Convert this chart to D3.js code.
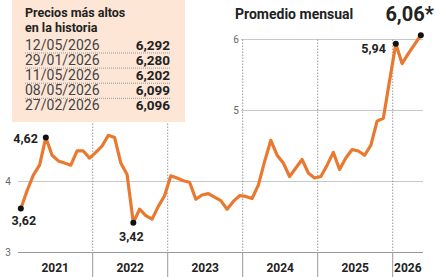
<!DOCTYPE html>
<html>
<head>
<meta charset="utf-8">
<script src="https://cdn.jsdelivr.net/npm/d3@7"></script>
<style>
  body { margin: 0; background: #fff; }
  svg { display: block; font-family: Roboto, "Noto Sans", sans-serif; }
</style>
</head>
<body>
<div id="chart"></div>
<script>
// monthly averages, Jan 2021 .. May 2026
var years = [2021, 2022, 2023, 2024, 2025, 2026];
var values2021 = [3.62, 3.87, 4.09, 4.23, 4.62, 4.37, 4.29, 4.26, 4.23, 4.43, 4.43, 4.33];
var values2022 = [4.41, 4.50, 4.65, 4.62, 4.26, 4.10, 3.42, 3.61, 3.52, 3.47, 3.65, 3.80];
var values2023 = [4.08, 4.05, 4.01, 3.99, 3.75, 3.81, 3.83, 3.78, 3.73, 3.61, 3.72, 3.80];
var values2024 = [3.79, 3.76, 3.95, 4.28, 4.58, 4.37, 4.26, 4.07, 4.19, 4.31, 4.12, 4.05];
var values2025 = [4.07, 4.23, 4.41, 4.17, 4.33, 4.45, 4.43, 4.37, 4.51, 4.85, 4.89, 5.42];
var values2026 = [5.94, 5.66, 5.80, 5.93, 6.06];

// highlighted points: month index from Jan 2021
var markIdx = [0, 4, 18, 60, 64];
var markLabels = ["3,62", "4,62", "3,42", "5,94", "6,06*"];

var yTicks = [3, 4, 5, 6];

// record table
var recordDates = ["12/05/2026", "29/01/2026", "11/05/2026", "08/05/2026", "27/02/2026"];
var recordValues = ["6,292", "6,280", "6,202", "6,099", "6,096"];

var svgWidth = 446, svgHeight = 277;

var svg = d3.select("#chart").append("svg")
    .attr("width", svgWidth)
    .attr("height", svgHeight);

var series = [].concat(values2021, values2022, values2023, values2024, values2025, values2026)
    .map(function (v, i) { return { m: i + 0.5, v: v }; });

// scales (x in months since Jan 2021)
var x = d3.scaleLinear().domain([0, 60]).range([17.7, 392.7]);
var y = d3.scaleLinear().domain([3, 6]).range([252.5, 39.5]);
var xEnd = 423;

// gridlines
var grid = svg.append("g");
yTicks.forEach(function (t) {
    var x0 = t >= 5 ? 241 : 18;
    grid.append("line")
        .attr("x1", x0).attr("x2", xEnd)
        .attr("y1", y(t)).attr("y2", y(t))
        .attr("stroke", t === 3 ? "#999" : "#c8c8c8")
        .attr("stroke-width", 1);
    grid.append("text")
        .attr("x", t >= 5 ? 236 : 8)
        .attr("y", y(t) + 3.5)
        .attr("text-anchor", "middle")
        .attr("font-size", 10)
        .attr("fill", "#666")
        .text(t);
});

// year separators
years.forEach(function (yr, i) {
    if (i === 0) return;
    var xx = x(i * 12);
    grid.append("line")
        .attr("x1", xx).attr("x2", xx)
        .attr("y1", y(6)).attr("y2", y(3))
        .attr("stroke", "#999")
        .attr("stroke-dasharray", "1.5,1.5");
    grid.append("line")
        .attr("x1", xx).attr("x2", xx)
        .attr("y1", y(3)).attr("y2", svgHeight)
        .attr("stroke", "#999");
});

// year labels
svg.append("g").selectAll("text")
    .data(years)
    .enter().append("text")
    .attr("x", function (d, i) {
        var a = x(i * 12), b = Math.min(x(i * 12 + 12), xEnd);
        return (a + b) / 2;
    })
    .attr("y", 272)
    .attr("text-anchor", "middle")
    .attr("font-size", 12)
    .attr("font-weight", "bold")
    .attr("fill", "#222")
    .text(function (d) { return d; });

// line
var line = d3.line()
    .x(function (d) { return x(d.m); })
    .y(function (d) { return y(d.v); });

svg.append("path")
    .datum(series)
    .attr("fill", "none")
    .attr("stroke", "#e8792f")
    .attr("stroke-width", 3.2)
    .attr("stroke-linejoin", "round")
    .attr("d", line);

// info box (drawn over the grid)
var box = svg.append("g");
box.append("rect")
    .attr("x", 12).attr("y", 0)
    .attr("width", 173).attr("height", 122)
    .attr("fill", "#fde6d6");
box.append("text")
    .attr("x", 25).attr("y", 17)
    .attr("font-size", 12.5).attr("font-weight", "bold").attr("fill", "#222")
    .text("Precios más altos");
box.append("text")
    .attr("x", 25).attr("y", 32)
    .attr("font-size", 12.5).attr("font-weight", "bold").attr("fill", "#222")
    .text("en la historia");

recordDates.forEach(function (d, i) {
    var by = 50 + i * 15.1;
    box.append("text")
        .attr("x", 25).attr("y", by)
        .attr("font-size", 14).attr("fill", "#444")
        .text(d);
    box.append("text")
        .attr("x", 170).attr("y", by)
        .attr("text-anchor", "end")
        .attr("font-size", 13.5).attr("font-weight", "bold").attr("fill", "#222")
        .text(recordValues[i]);
    if (i < recordDates.length - 1) {
        box.append("line")
            .attr("x1", 25).attr("x2", 170)
            .attr("y1", by + 3).attr("y2", by + 3)
            .attr("stroke", "#999")
            .attr("stroke-dasharray", "1,1");
    }
});

// title
svg.append("text")
    .attr("x", 235).attr("y", 19)
    .attr("font-size", 14).attr("font-weight", "bold").attr("fill", "#222")
    .text("Promedio mensual");

// marked points
var labelPos = [
    { dx: 3, dy: 17, anchor: "middle", size: 12.5 },
    { dx: -8, dy: 6, anchor: "end", size: 12.5 },
    { dx: -2, dy: 18, anchor: "middle", size: 12.5 },
    { dx: -10, dy: 9, anchor: "end", size: 12.5 },
    { dx: 13, dy: -14, anchor: "end", size: 20 }
];
var marks = svg.append("g");
markIdx.forEach(function (mi, i) {
    var d = series[mi];
    marks.append("circle")
        .attr("cx", x(d.m)).attr("cy", y(d.v))
        .attr("r", 3)
        .attr("fill", "#111");
    marks.append("text")
        .attr("x", x(d.m) + labelPos[i].dx)
        .attr("y", y(d.v) + labelPos[i].dy)
        .attr("text-anchor", labelPos[i].anchor)
        .attr("font-size", labelPos[i].size)
        .attr("font-weight", "bold")
        .attr("fill", "#222")
        .text(markLabels[i]);
});
</script>
</body>
</html>
